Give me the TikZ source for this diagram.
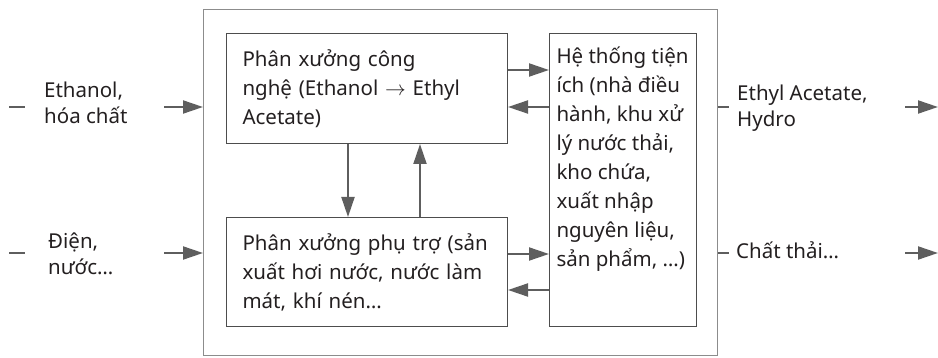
\documentclass[tikz,border=0pt]{standalone}
\usepackage{fontspec}
\setmainfont{Noto Sans}
\usetikzlibrary{arrows.meta}
\definecolor{lineGray}{HTML}{5E5E5E}
\definecolor{frameGray}{HTML}{8C8C8C}
\definecolor{boxGray}{HTML}{4D4D4D}
\definecolor{inkDark}{HTML}{231F20}

\begin{document}
\begin{tikzpicture}[x=1pt, y=-1pt, font=\fontsize{20.5}{29}\selectfont, text=inkDark,
  unit/.style={draw=boxGray, line width=1pt, anchor=north west, align=left},
  side/.style={anchor=west, inner sep=0pt, align=left, font=\fontsize{20.5}{25.5}\selectfont},
  flow/.style={draw=lineGray, line width=2pt, -{Triangle[length=20pt, width=13pt]}},
  tick/.style={draw=lineGray, line width=2pt}]
  \useasboundingbox (0,0) rectangle (938,358);

  % plant boundary and its three units
  \node[draw=frameGray, line width=1.3pt, anchor=north west, minimum width=514pt, minimum height=346pt] (plant) at (203,9) {};
  \node[unit, text width=249pt, inner xsep=16pt, minimum height=110pt] (proc) at (226,33)
    {Phân xưởng công\\nghệ (Ethanol $\rightarrow$ Ethyl\\Acetate)};
  \node[unit, text width=249pt, inner xsep=16pt, minimum height=109pt] (aux) at (226,217)
    {Phân xưởng phụ trợ (sản\\xuất hơi nước, nước làm\\mát, khí nén…};
  \node[unit, inner xsep=7pt, inner ysep=0pt, minimum width=147pt, minimum height=293pt] (util) at (549,33)
    {\parbox[c][285pt][t]{133pt}{\vspace{9pt}Hệ thống tiện\\ích (nhà điều\\hành, khu xử\\lý nước thải,\\kho chứa,\\xuất nhập\\nguyên liệu,\\sản phẩm, …)}};

  % links inside the plant
  \draw[flow] (proc.south -| 348,0) -- (aux.north -| 348,0);
  \draw[flow] (aux.north -| 420,0) -- (proc.south -| 420,0);
  \draw[flow] (proc.east |- 0,70) -- (util.west |- 0,70);
  \draw[flow] (util.west |- 0,107) -- (proc.east |- 0,107);
  \draw[flow] (aux.east |- 0,254) -- (util.west |- 0,254);
  \draw[flow] (util.west |- 0,290) -- (aux.east |- 0,290);

  % inputs
  \node[side] (ethanol) at (44,103) {Ethanol,\\hóa chất};
  \node[side] (power) at (48,254) {Điện,\\nước…};
  \coordinate (inA) at (164,107);
  \coordinate (inB) at (164,253);
  \draw[tick] (9,107) -- (25,107);
  \draw[tick] (9,253) -- (25,253);
  \draw[flow] (inA) -- (inA -| plant.west);
  \draw[flow] (inB) -- (inB -| plant.west);

  % outputs
  \node[side] (product) at (737,108) {Ethyl Acetate,\\Hydro};
  \node[side, anchor=base west] (waste) at (736,259) {Chất thải…};
  \coordinate (outA) at (905,107);
  \coordinate (outB) at (905,253);
  \draw[tick] (plant.east |- outA) -- ++(11,0);
  \draw[tick] (plant.east |- outB) -- ++(11,0);
  \draw[flow] (outA) -- (938,107);
  \draw[flow] (outB) -- (938,253);
\end{tikzpicture}
\end{document}
